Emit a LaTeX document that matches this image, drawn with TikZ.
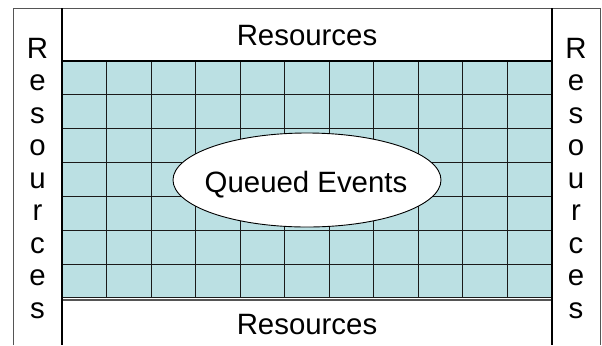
\documentclass[tikz,border=0pt]{standalone}
\usepackage{fontspec}
\setmainfont{Liberation Sans}
\usetikzlibrary{shapes.geometric}
\definecolor{gridfill}{HTML}{BBE0E3}
\definecolor{gridline}{HTML}{1A1A1A}
\definecolor{framegray}{HTML}{555555}
\tikzset{
  lbl/.style={font=\fontsize{29.5}{32}\selectfont, inner sep=0pt, anchor=base},
  thin line/.style={draw=gridline, line width=0.9bp},
  heavy/.style={draw=black, line width=1.8bp},
}
\begin{document}
\begin{tikzpicture}[x=1bp,y=-1bp]
\useasboundingbox (0,0) rectangle (602,345);
\fill[white] (0,0) rectangle (602,345);
% grid
\fill[gridfill] (62,61) rectangle (552,298);
\foreach \i in {1,...,10} {
  \draw[thin line] ({62+44.545*\i},61) -- ({62+44.545*\i},298);
}
\foreach \j in {1,...,6} {
  \draw[thin line] (62,{61+33.857*\j}) -- (552,{61+33.857*\j});
}
% outer frame
\draw[framegray, line width=0.9bp] (13,345) -- (13,8) -- (600,8) -- (600,345);
% grid borders
\draw[heavy] (62,61) -- (552,61);
\draw[draw=framegray, line width=1.6bp] (62,299.8) -- (552,299.8);
\draw[draw=gridline, line width=1.3bp] (62,297.8) -- (552,297.8);
\draw[heavy] (62,8) -- (62,345);
\draw[heavy] (552,8) -- (552,345);
% ellipse
\node[ellipse, draw=black, line width=0.9bp, fill=white, minimum width=268bp, minimum height=94bp, inner sep=0pt] (q) at (307,180) {};
\node[lbl, anchor=base] (qt) at (306,192) {Queued Events};
% top / bottom labels
\node[lbl] (rt) at (307,45) {Resources};
\node[lbl] (rb) at (307,334) {Resources};
% vertical labels
\foreach \c [count=\k from 0] in {R,e,s,o,u,r,c,e,s} {
  \node[lbl] (l\k) at (37.5,{58+32.5*\k}) {\c};
  \node[lbl] (r\k) at (576,{58+32.5*\k}) {\c};
}
\end{tikzpicture}
\end{document}
